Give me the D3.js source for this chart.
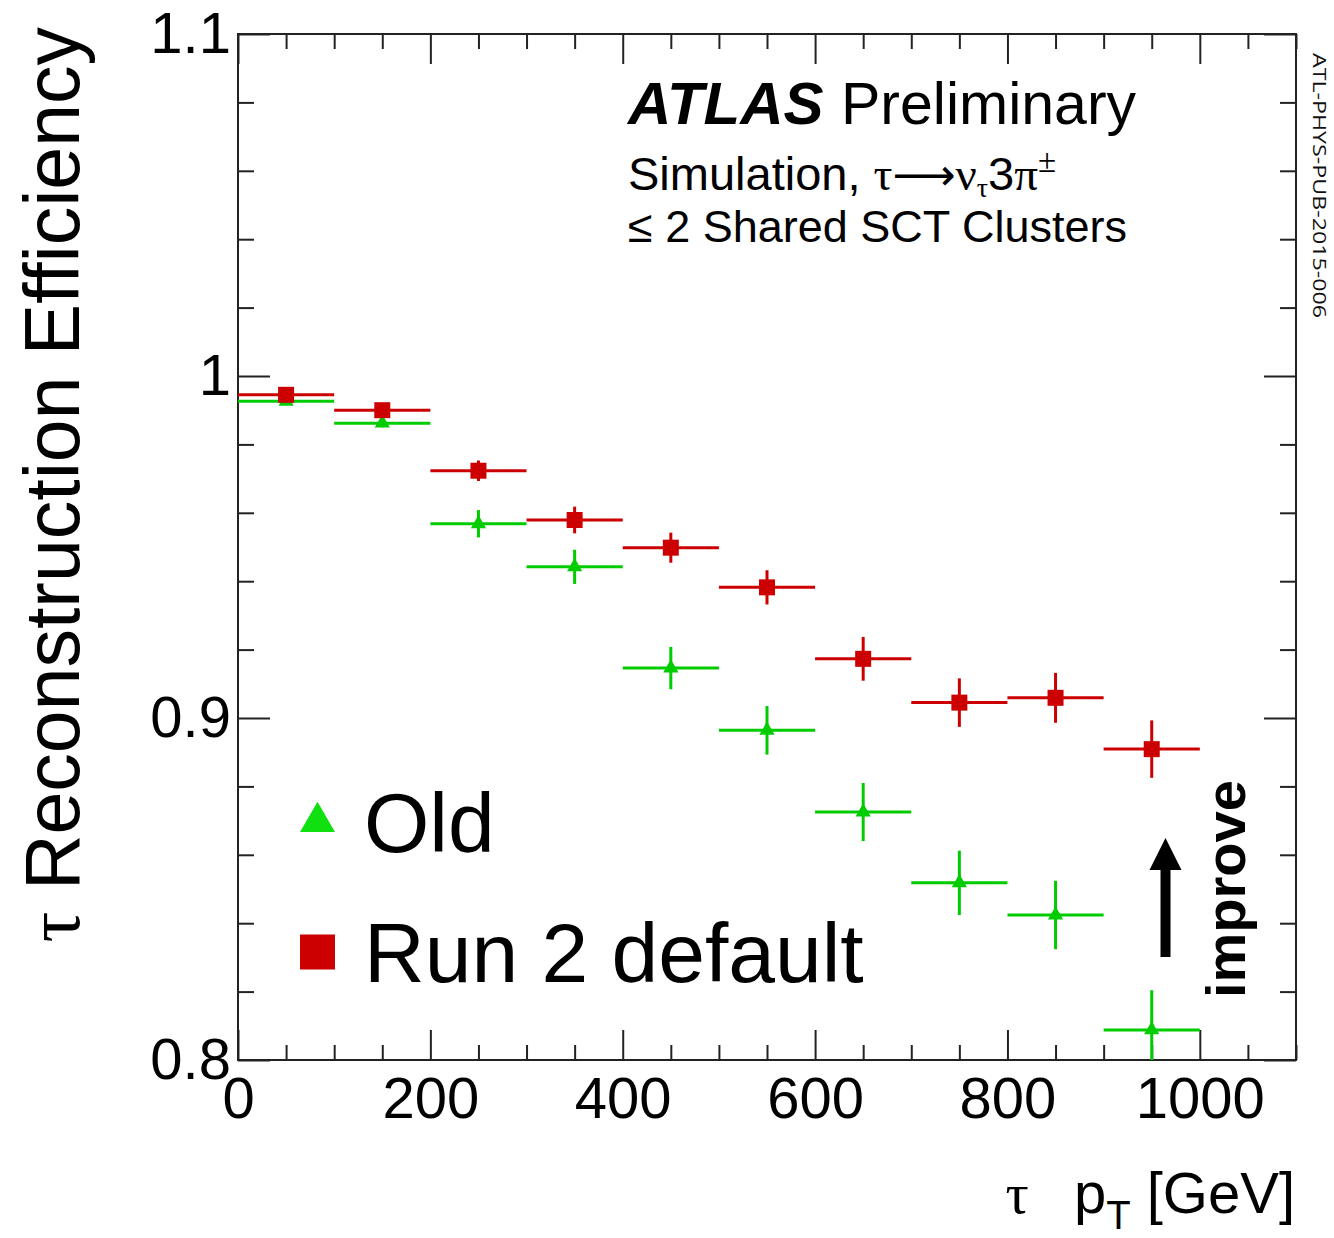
<!DOCTYPE html>
<html>
<head>
<meta charset="utf-8">
<script src="https://cdn.jsdelivr.net/npm/d3@7"></script>
<style>
  html, body { margin: 0; padding: 0; background: #fff; }
  svg { display: block; }
</style>
</head>
<body>
<svg id="chart" width="1334" height="1238"></svg>
<script>
// tau pT bins [GeV]
const binEdges = [0, 100, 200, 300, 400, 500, 600, 700, 800, 900, 1000];

// Old reconstruction
const oldEff = [0.9926, 0.9862, 0.9568, 0.9442, 0.9146, 0.8964, 0.8725, 0.8518, 0.8424, 0.8088];
const oldErr = [0.0008, 0.0012, 0.0040, 0.0050, 0.0062, 0.0071, 0.0085, 0.0094, 0.0100, 0.0116];

// Run 2 default reconstruction
const run2Eff = [0.9945, 0.9900, 0.9723, 0.9579, 0.9498, 0.9382, 0.9173, 0.9045, 0.9059, 0.8909];
const run2Err = [0.0006, 0.0010, 0.0030, 0.0039, 0.0044, 0.0050, 0.0064, 0.0071, 0.0073, 0.0084];

// Axis ticks
const xMajor = [0, 200, 400, 600, 800, 1000];
const yMajor = [0.8, 0.9, 1.0, 1.1];
const yLabels = ["0.8", "0.9", "1", "1.1"];

const svg = d3.select("#chart");
const L = 238, R = 1296, T = 34, B = 1060;

const x = d3.scaleLinear().domain([0, 1100]).range([L, R]);
const y = d3.scaleLinear().domain([0.8, 1.1]).range([B, T]);

const xMinor = d3.range(0, 1101, 50).filter(v => v % 200 !== 0);
const yMinor = d3.range(0, 16).map(i => +(0.8 + i * 0.02).toFixed(2)).filter(v => Math.abs(v * 10 - Math.round(v * 10)) > 1e-6);

const AX = "#222";
const FONT = "'Liberation Sans', Arial, Helvetica, sans-serif";
const SERIF = "'Liberation Serif', 'DejaVu Serif', 'Times New Roman', serif";

function styleAxis(g) {
  g.select(".domain").remove();
  g.selectAll(".tick line").attr("stroke", AX).attr("stroke-width", 2);
  g.selectAll("text").attr("fill", "#000");
  g.attr("font-family", FONT).attr("font-size", 58);
}

// bottom axis (labelled)
svg.append("g").attr("transform", `translate(0,${B})`)
  .call(d3.axisBottom(x).tickValues(xMajor).tickFormat(d3.format("d")).tickSizeInner(-30).tickSizeOuter(0).tickPadding(17))
  .call(styleAxis);
svg.append("g").attr("transform", `translate(0,${B})`)
  .call(d3.axisBottom(x).tickValues(xMinor).tickFormat("").tickSizeInner(-15).tickSizeOuter(0))
  .call(styleAxis);
// top axis
svg.append("g").attr("transform", `translate(0,${T})`)
  .call(d3.axisTop(x).tickValues(xMajor).tickFormat("").tickSizeInner(-30).tickSizeOuter(0))
  .call(styleAxis);
svg.append("g").attr("transform", `translate(0,${T})`)
  .call(d3.axisTop(x).tickValues(xMinor).tickFormat("").tickSizeInner(-15).tickSizeOuter(0))
  .call(styleAxis);
// left axis (labelled)
svg.append("g").attr("transform", `translate(${L},0)`)
  .call(d3.axisLeft(y).tickValues(yMajor).tickFormat((d, i) => yLabels[i]).tickSizeInner(-32).tickSizeOuter(0).tickPadding(7))
  .call(styleAxis);
svg.append("g").attr("transform", `translate(${L},0)`)
  .call(d3.axisLeft(y).tickValues(yMinor).tickFormat("").tickSizeInner(-16).tickSizeOuter(0))
  .call(styleAxis);
// right axis
svg.append("g").attr("transform", `translate(${R},0)`)
  .call(d3.axisRight(y).tickValues(yMajor).tickFormat("").tickSizeInner(-32).tickSizeOuter(0))
  .call(styleAxis);
svg.append("g").attr("transform", `translate(${R},0)`)
  .call(d3.axisRight(y).tickValues(yMinor).tickFormat("").tickSizeInner(-16).tickSizeOuter(0))
  .call(styleAxis);

// frame
svg.append("rect").attr("x", L).attr("y", T).attr("width", R - L).attr("height", B - T)
  .attr("fill", "none").attr("stroke", AX).attr("stroke-width", 2);

// data series with error bars
function drawSeries(eff, err, color, symbolType, symbolSize) {
  const pts = eff.map((v, i) => ({
    lo: binEdges[i], hi: binEdges[i + 1], c: (binEdges[i] + binEdges[i + 1]) / 2, v, e: err[i]
  }));
  const g = svg.append("g");
  g.selectAll("line.h").data(pts).join("line")
    .attr("x1", d => x(d.lo)).attr("x2", d => x(d.hi))
    .attr("y1", d => y(d.v)).attr("y2", d => y(d.v))
    .attr("stroke", color).attr("stroke-width", 3);
  g.selectAll("line.v").data(pts).join("line")
    .attr("x1", d => x(d.c)).attr("x2", d => x(d.c))
    .attr("y1", d => y(Math.min(1.1, d.v + d.e))).attr("y2", d => y(Math.max(0.8, d.v - d.e)))
    .attr("stroke", color).attr("stroke-width", 3);
  g.selectAll("path").data(pts).join("path")
    .attr("transform", d => `translate(${x(d.c)},${y(d.v)})`)
    .attr("d", d3.symbol().type(symbolType).size(symbolSize))
    .attr("fill", color);
}
drawSeries(oldEff, oldErr, "#00cc00", d3.symbolTriangle, 100);
drawSeries(run2Eff, run2Err, "#cc0000", d3.symbolSquare, 256);

// x axis title
const xt = svg.append("text").attr("x", 1295).attr("y", 1213).attr("text-anchor", "end")
  .attr("font-family", FONT).attr("font-size", 58).attr("fill", "#000");
xt.append("tspan").attr("font-family", SERIF).text("\u03C4");
xt.append("tspan").text("\u2002 p");
xt.append("tspan").attr("font-size", 40).attr("dy", 16).text("T");
xt.append("tspan").attr("dy", -16).text(" [GeV]");

// y axis title
const yt = svg.append("text").attr("transform", "translate(79,27) rotate(-90)").attr("text-anchor", "end")
  .attr("font-family", FONT).attr("font-size", 77).attr("fill", "#000");
yt.append("tspan").attr("font-family", SERIF).text("\u03C4");
yt.append("tspan").text(" Reconstruction Efficiency");

// ATLAS label
svg.append("text").attr("x", 628).attr("y", 124).attr("font-family", FONT)
  .attr("font-size", 60).attr("font-weight", "bold").attr("font-style", "italic").text("ATLAS");
svg.append("text").attr("x", 841).attr("y", 124).attr("font-family", FONT)
  .attr("font-size", 59).text("Preliminary");

const sim = svg.append("text").attr("x", 628).attr("y", 190).attr("font-family", FONT).attr("font-size", 47);
sim.append("tspan").text("Simulation, ");
sim.append("tspan").attr("font-family", SERIF).text("\u03C4");
sim.append("tspan").attr("font-family", "'DejaVu Sans', sans-serif").attr("font-size", 44).text("\u27F6");
sim.append("tspan").attr("font-family", SERIF).text("\u03BD");
sim.append("tspan").attr("font-family", SERIF).attr("font-size", 28).attr("dy", 7).text("\u03C4");
sim.append("tspan").attr("dy", -7).text("3");
sim.append("tspan").attr("font-family", SERIF).text("\u03C0");
sim.append("tspan").attr("font-family", SERIF).attr("font-size", 33).attr("dy", -18).text("\u00B1");

svg.append("text").attr("x", 628).attr("y", 242).attr("font-family", FONT).attr("font-size", 45)
  .text("\u2264 2 Shared SCT Clusters");

// legend
const legend = [
  { label: "Old", color: "#10e010", type: d3.symbolTriangle, size: 530, y: 822 },
  { label: "Run 2 default", color: "#cc0000", type: d3.symbolSquare, size: 1225, y: 952 }
];
const lg = svg.append("g");
lg.selectAll("path").data(legend).join("path")
  .attr("transform", d => `translate(317.5,${d.y})`)
  .attr("d", d => d3.symbol().type(d.type).size(d.size)())
  .attr("fill", d => d.color);
lg.selectAll("text").data(legend).join("text")
  .attr("x", 364).attr("y", d => d.y + 30)
  .attr("font-family", FONT).attr("font-size", 84).text(d => d.label);

// "improve" arrow
svg.append("rect").attr("x", 1160.5).attr("y", 868).attr("width", 10).attr("height", 89).attr("fill", "#000");
svg.append("path").attr("d", "M1165.5,838 L1181.5,870 L1149.5,870 Z").attr("fill", "#000");
svg.append("text").attr("transform", "translate(1245,998) rotate(-90)")
  .attr("font-family", FONT).attr("font-size", 56).attr("font-weight", "bold").text("improve");

// document reference
svg.append("text").attr("transform", "translate(1313,53) rotate(90)")
  .attr("font-family", "'Open Sans', 'DejaVu Sans', sans-serif").attr("font-size", 19).attr("fill", "#111")
  .attr("textLength", 265).attr("lengthAdjust", "spacingAndGlyphs")
  .text("ATL-PHYS-PUB-2015-006");
</script>
</body>
</html>
